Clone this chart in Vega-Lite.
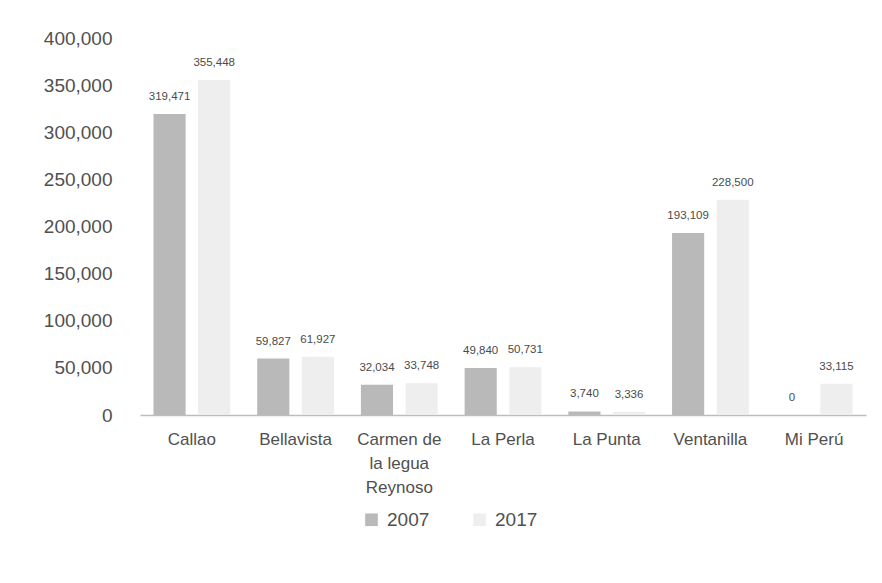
{
  "$schema": "https://vega.github.io/schema/vega-lite/v6.json",
  "width": 726,
  "height": 377,
  "autosize": {"type": "none"},
  "padding": {"left": 140, "top": 38, "right": 16, "bottom": 168},
  "background": "white",
  "config": {
    "view": {"stroke": null},
    "font": "Liberation Sans",
    "text": {"font": "Liberation Sans"}
  },
  "data": {
    "values": [
      {"distrito": "Callao", "anio": "2007", "poblacion": 319471},
      {"distrito": "Callao", "anio": "2017", "poblacion": 355448},
      {"distrito": "Bellavista", "anio": "2007", "poblacion": 59827},
      {"distrito": "Bellavista", "anio": "2017", "poblacion": 61927},
      {"distrito": "Carmen de la legua Reynoso", "anio": "2007", "poblacion": 32034},
      {"distrito": "Carmen de la legua Reynoso", "anio": "2017", "poblacion": 33748},
      {"distrito": "La Perla", "anio": "2007", "poblacion": 49840},
      {"distrito": "La Perla", "anio": "2017", "poblacion": 50731},
      {"distrito": "La Punta", "anio": "2007", "poblacion": 3740},
      {"distrito": "La Punta", "anio": "2017", "poblacion": 3336},
      {"distrito": "Ventanilla", "anio": "2007", "poblacion": 193109},
      {"distrito": "Ventanilla", "anio": "2017", "poblacion": 228500},
      {"distrito": "Mi Perú", "anio": "2007", "poblacion": 0},
      {"distrito": "Mi Perú", "anio": "2017", "poblacion": 33115}
    ]
  },
  "encoding": {
    "x": {
      "field": "distrito",
      "type": "nominal",
      "sort": null,
      "scale": {"paddingInner": 0.26, "paddingOuter": 0.13},
      "axis": {
        "title": null,
        "labelAngle": 0,
        "ticks": false,
        "domainColor": "#bdbdbd",
        "domainWidth": 1.5,
        "labelFont": "Liberation Sans",
        "labelFontSize": 17,
        "labelColor": "#505050",
        "labelPadding": 16,
        "labelLineHeight": 24,
        "labelExpr": "datum.value == 'Carmen de la legua Reynoso' ? ['Carmen de', 'la legua', 'Reynoso'] : datum.value"
      }
    },
    "xOffset": {
      "field": "anio",
      "type": "nominal",
      "scale": {"paddingInner": 0.28, "paddingOuter": 0}
    },
    "y": {
      "field": "poblacion",
      "type": "quantitative",
      "scale": {"domain": [0, 400000]},
      "axis": {
        "title": null,
        "values": [0, 50000, 100000, 150000, 200000, 250000, 300000, 350000, 400000],
        "format": ",.0f",
        "grid": false,
        "ticks": false,
        "domain": false,
        "labelFont": "Liberation Sans",
        "labelFontSize": 19,
        "labelColor": "#505050",
        "labelPadding": 28
      }
    }
  },
  "layer": [
    {
      "mark": {"type": "bar"},
      "encoding": {
        "color": {
          "field": "anio",
          "type": "nominal",
          "scale": {"domain": ["2007", "2017"], "range": ["#b9b9b9", "#eeeeee"]},
          "legend": {
            "title": null,
            "orient": "none",
            "direction": "horizontal",
            "legendX": 222,
            "legendY": 472,
            "symbolType": "square",
            "symbolSize": 160,
            "labelFont": "Liberation Sans",
            "labelFontSize": 19,
            "labelColor": "#505050",
            "columnPadding": 40,
            "labelOffset": 6
          }
        }
      }
    },
    {
      "mark": {"type": "text", "baseline": "bottom", "dy": -12, "fontSize": 11.5, "color": "#4a4a4a", "font": "Liberation Sans"},
      "encoding": {
        "text": {"field": "poblacion", "type": "quantitative", "format": ",.0f"}
      }
    }
  ]
}
